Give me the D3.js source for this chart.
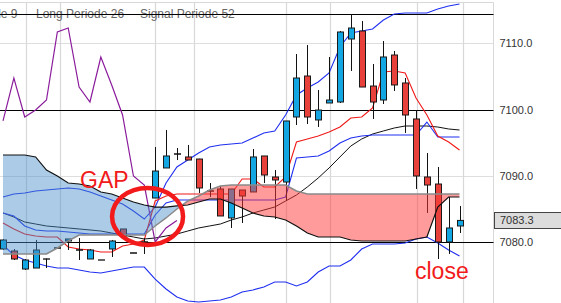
<!DOCTYPE html>
<html><head><meta charset="utf-8">
<script src="https://cdn.jsdelivr.net/npm/d3@7"></script>
<style>
html,body{margin:0;padding:0;background:#fff;}
svg{display:block;font-family:"Liberation Sans",Arial,sans-serif;}
</style></head><body>
<svg id="chart" width="561" height="303"></svg>
<script>
// ---- data ----
const opens  = [7078.99,7078.69,7075.97,7076.12,7077.48,7079.14,7080.20,7078.84,7077.48,7077.33,7078.99,7082.01,7078.39,7080.05,7086.68,7091.21,7093.32,7092.87,7092.56,7087.78,7088.04,7083.67,7087.89,7087.59,7093.02,7089.85,7089.09,7098.90,7105.08,7098.45,7101.01,7101.16,7110.66,7111.87,7103.57,7101.46,7108.25,7104.03,7098.60,7089.85,7088.79,7080.05,7082.46];
const highs  = [7080.50,7078.99,7077.48,7080.35,7077.55,7079.20,7080.50,7080.65,7078.99,7077.33,7080.35,7082.01,7078.39,7080.65,7094.37,7096.94,7094.22,7094.68,7092.60,7088.94,7088.49,7088.04,7087.89,7094.07,7093.02,7090.90,7098.30,7108.40,7109.76,7102.97,7107.95,7111.87,7114.43,7113.38,7106.89,7110.36,7108.85,7104.78,7099.95,7093.47,7091.36,7086.83,7085.48];
const lows   = [7078.84,7077.33,7075.82,7076.12,7076.12,7079.10,7078.84,7077.33,7077.48,7077.33,7077.78,7080.80,7078.39,7078.24,7086.68,7091.21,7092.41,7092.41,7087.44,7086.83,7083.97,7082.16,7082.91,7087.59,7088.94,7083.51,7086.38,7097.69,7097.84,7097.39,7101.01,7101.01,7105.84,7103.42,7098.60,7100.86,7102.82,7096.49,7088.04,7084.42,7077.48,7078.24,7081.40];
const closes = [7080.35,7077.48,7077.33,7078.84,7077.48,7079.14,7080.50,7078.84,7078.84,7077.33,7080.20,7080.95,7078.39,7080.05,7090.75,7093.02,7093.32,7092.41,7088.19,7087.70,7083.97,7088.04,7086.98,7092.87,7090.15,7089.40,7098.30,7104.78,7098.90,7099.95,7101.46,7111.72,7112.32,7103.42,7101.16,7107.95,7103.73,7099.20,7090.00,7088.64,7080.05,7082.16,7083.30];

const tenkan = [7082.91,7082.01,7081.25,7080.95,7080.80,7080.80,7079.29,7078.99,7078.84,7078.54,7078.54,7079.44,7079.74,7080.35,7086.23,7086.98,7087.29,7087.29,7087.29,7087.29,7087.29,7087.29,7089.55,7089.55,7088.34,7088.34,7089.85,7095.13,7095.58,7096.03,7096.64,7097.39,7098.75,7098.90,7100.26,7105.69,7105.84,7105.54,7101.76,7099.20,7096.03,7095.13,7093.92];
const kijun = [7084.42,7083.97,7082.46,7081.86,7081.70,7081.70,7081.55,7081.40,7081.25,7081.25,7081.25,7081.25,7081.25,7081.25,7084.12,7085.93,7086.38,7086.38,7086.38,7086.38,7086.38,7086.38,7086.38,7086.38,7086.38,7086.38,7086.83,7092.71,7092.87,7093.02,7093.77,7094.98,7095.73,7096.03,7096.18,7096.18,7096.18,7096.18,7096.18,7098.14,7095.88,7095.88,7095.88];
const upperBand = [7086.83,7087.29,7087.44,7087.74,7087.89,7088.04,7088.19,7088.04,7087.59,7086.98,7086.38,7085.78,7084.72,7083.51,7085.32,7088.94,7091.36,7092.41,7093.47,7094.37,7094.68,7094.83,7094.98,7095.73,7096.49,7096.79,7099.20,7102.22,7103.27,7104.18,7105.54,7109.46,7111.57,7111.87,7112.17,7113.53,7114.43,7114.59,7114.59,7114.59,7115.19,7115.64,7115.94];
const lowerBand = [7079.59,7078.08,7077.33,7076.87,7076.42,7076.12,7076.12,7075.82,7075.52,7075.37,7075.67,7075.97,7076.27,7076.27,7074.46,7072.96,7071.75,7071.15,7071.00,7071.15,7071.30,7071.75,7072.51,7072.81,7073.26,7074.01,7074.01,7073.41,7074.01,7075.52,7076.42,7076.42,7077.33,7078.99,7079.74,7079.74,7079.74,7079.89,7080.50,7080.80,7079.89,7078.84,7077.93];
const movingAvg = [7084.42,7083.82,7083.06,7082.76,7082.46,7082.31,7082.16,7082.01,7081.86,7081.70,7081.40,7081.10,7080.80,7080.50,7080.65,7080.95,7081.25,7081.70,7082.16,7082.46,7082.76,7083.36,7083.82,7084.42,7084.87,7085.32,7086.23,7087.13,7088.34,7089.70,7091.21,7092.87,7094.52,7095.58,7096.33,7096.79,7097.24,7097.54,7097.54,7097.54,7097.39,7097.09,7096.94];
const spanA = [7078.24,7078.24,7078.24,7078.24,7078.24,7079.14,7080.20,7081.10,7081.10,7081.10,7081.10,7081.10,7081.10,7081.10,7082.46,7083.67,7085.02,7086.23,7086.98,7087.89,7088.49,7088.64,7088.64,7088.64,7088.64,7088.64,7088.64,7087.74,7087.29,7087.29,7087.29,7087.29,7087.29,7087.29,7087.29,7087.29,7087.29,7087.29,7087.29,7087.29,7087.29,7087.29,7087.29];
const spanB = [7093.17,7093.17,7093.17,7092.87,7090.90,7090.00,7088.94,7088.79,7088.49,7087.59,7087.29,7086.68,7086.08,7085.63,7085.32,7085.32,7085.48,7085.63,7086.08,7086.53,7086.53,7085.93,7085.17,7084.42,7083.97,7083.82,7083.36,7082.46,7081.40,7080.80,7080.80,7080.80,7080.35,7080.20,7080.20,7080.20,7080.20,7080.20,7080.50,7080.80,7085.32,7086.83,7086.83];
const laggingSpan = [7098.30,7104.78,7098.90,7099.95,7101.46,7111.72,7112.32,7103.42,7101.16,7107.95,7103.73,7099.20,7090.00,7088.64,7080.05,7082.16,7083.30];

const yTicks = [7080, 7090, 7100, 7110];
const levelLines = [7080, 7100, 7114.43];
const timeGridIdx = [2.1, 5.25, 14, 17.6, 26, 30.1, 38.05, 42.35];
const headerLabels = ["Short Periode  9", "Long Periode  26", "Signal Periode  52"];
const lastPrice = 7083.3;

// ---- layout ----
const W = 561, H = 303, plotRight = 493.5, plotTop = 2.5;
const FONT = '"Liberation Sans", Arial, sans-serif';
const x = d3.scaleLinear().domain([0, 42]).range([3, 459.5]);
const y = d3.scaleLinear().domain([7070.845, 7116.545]).range([303, 0]);
const svg = d3.select("#chart");
const defs = svg.append("defs");
defs.append("clipPath").attr("id", "plot").append("rect")
  .attr("x", 0).attr("y", plotTop).attr("width", plotRight).attr("height", H - plotTop);

const crisp = v => Math.round(v) + 0.5;

// grid
const grid = svg.append("g").attr("clip-path", "url(#plot)");
grid.selectAll("line.h").data(yTicks).join("line")
  .attr("x1", 0).attr("x2", plotRight).attr("y1", d => crisp(y(d))).attr("y2", d => crisp(y(d)))
  .attr("stroke", "#dedede").attr("stroke-width", 1);
grid.selectAll("line.v").data(timeGridIdx).join("line")
  .attr("x1", d => crisp(x(d))).attr("x2", d => crisp(x(d))).attr("y1", plotTop).attr("y2", H)
  .attr("stroke", "#d8d8d8").attr("stroke-width", 1.2);
// frame
svg.append("line").attr("x1", 0).attr("x2", plotRight).attr("y1", plotTop).attr("y2", plotTop).attr("stroke", "#d8d8d8");
svg.append("line").attr("x1", plotRight).attr("x2", plotRight).attr("y1", plotTop).attr("y2", H).attr("stroke", "#d8d8d8");

// header text
const hdr = svg.append("g").attr("font-family", FONT).attr("font-size", 12).attr("fill", "#666").style("white-space", "pre");
hdr.append("text").attr("x", 17.5).attr("y", 18).attr("text-anchor", "end").text(headerLabels[0]);
hdr.append("text").attr("x", 36).attr("y", 18).text(headerLabels[1]);
hdr.append("text").attr("x", 140).attr("y", 18).text(headerLabels[2]);

// level lines
svg.append("g").selectAll("line").data(levelLines).join("line")
  .attr("x1", 0).attr("x2", plotRight).attr("y1", d => crisp(y(d))).attr("y2", d => crisp(y(d)))
  .attr("stroke", "#000").attr("stroke-width", 1);

const plot = svg.append("g").attr("clip-path", "url(#plot)");
const line = d3.line().x((d, i) => x(i)).y(d => y(d));

// indicator lines
plot.append("path").attr("d", line(movingAvg)).attr("fill", "none").attr("stroke", "#111").attr("stroke-width", 1);
plot.append("path").attr("d", line(upperBand)).attr("fill", "none").attr("stroke", "#1f2ff0").attr("stroke-width", 1.1);
plot.append("path").attr("d", line(lowerBand)).attr("fill", "none").attr("stroke", "#1f2ff0").attr("stroke-width", 1.1);
plot.append("path").attr("d", line(kijun)).attr("fill", "none").attr("stroke", "#1f2ff0").attr("stroke-width", 1.1);
plot.append("path").attr("d", line(tenkan)).attr("fill", "none").attr("stroke", "#f01818").attr("stroke-width", 1.1);
plot.append("path").attr("d", line(laggingSpan)).attr("fill", "none").attr("stroke", "#8b1c9c").attr("stroke-width", 1.2);

// candles
const candles = plot.append("g");
closes.forEach((c, i) => {
  const o = opens[i], cx = crisp(x(i));
  candles.append("line").attr("x1", cx).attr("x2", cx).attr("y1", y(highs[i])).attr("y2", y(lows[i]))
    .attr("stroke", "#111").attr("stroke-width", 1);
  const top = y(Math.max(o, c)), bot = y(Math.min(o, c));
  if (bot - top < 1.2) {
    candles.append("line").attr("x1", cx - 3.5).attr("x2", cx + 3.5).attr("y1", (top + bot) / 2).attr("y2", (top + bot) / 2)
      .attr("stroke", "#111").attr("stroke-width", 1.3);
  } else {
    candles.append("rect").attr("x", cx - 3).attr("width", 6).attr("y", top).attr("height", bot - top)
      .attr("fill", c >= o ? "#12a6e2" : "#e8403a").attr("stroke", "#1a1a1a").attr("stroke-width", 1);
  }
});

// cloud fills
const aboveA = d3.area().x((d, i) => x(i)).y0(0).y1((d, i) => y(spanA[i]));
const belowA = d3.area().x((d, i) => x(i)).y0(H).y1((d, i) => y(spanA[i]));
defs.append("clipPath").attr("id", "aboveA").append("path").attr("d", aboveA(spanA));
defs.append("clipPath").attr("id", "belowA").append("path").attr("d", belowA(spanA));
const cloud = d3.area().x((d, i) => x(i)).y0((d, i) => y(spanA[i])).y1((d, i) => y(spanB[i]));
const cg = plot.append("g");
cg.append("path").attr("d", cloud(spanA)).attr("clip-path", "url(#aboveA)").attr("fill", "rgb(70,140,200)").attr("fill-opacity", 0.45);
cg.append("path").attr("d", cloud(spanA)).attr("clip-path", "url(#belowA)").attr("fill", "rgb(255,55,55)").attr("fill-opacity", 0.5);
plot.append("path").attr("d", line(spanA)).attr("fill", "none").attr("stroke", "#8a8a8a").attr("stroke-width", 1.5);
plot.append("path").attr("d", line(spanB)).attr("fill", "none").attr("stroke", "#111").attr("stroke-width", 1.2);

// annotations
const ann = svg.append("g").attr("font-family", FONT).attr("fill", "#f21a1a");
ann.append("text").attr("x", 80).attr("y", 188).attr("font-size", 23).text("GAP");
ann.append("text").attr("x", 415).attr("y", 279).attr("font-size", 23).text("close");
svg.append("ellipse").attr("cx", x(13.3)).attr("cy", y(7083.9)).attr("rx", 35.5).attr("ry", 28.5)
  .attr("fill", "none").attr("stroke", "#f21a1a").attr("stroke-width", 4.5);

// right axis
const axis = d3.axisRight(y).tickValues(yTicks).tickFormat(d3.format(".1f")).tickSize(0).tickPadding(6);
const ag = svg.append("g").attr("transform", `translate(${plotRight},0)`).call(axis);
ag.select(".domain").remove();
ag.attr("font-family", FONT).attr("font-size", 11);
ag.selectAll("text").attr("fill", "#333");

// last price tag
const ly = y(lastPrice);
svg.append("rect").attr("x", 494.5).attr("y", Math.round(ly - 8) + 0.5).attr("width", 70).attr("height", 16)
  .attr("fill", "#dcdcdc").attr("stroke", "#444");
svg.append("text").attr("x", 500).attr("y", ly).attr("dy", "0.35em").attr("font-family", FONT).attr("font-size", 11)
  .attr("fill", "#333").text(d3.format(".1f")(lastPrice));
</script>
</body></html>
